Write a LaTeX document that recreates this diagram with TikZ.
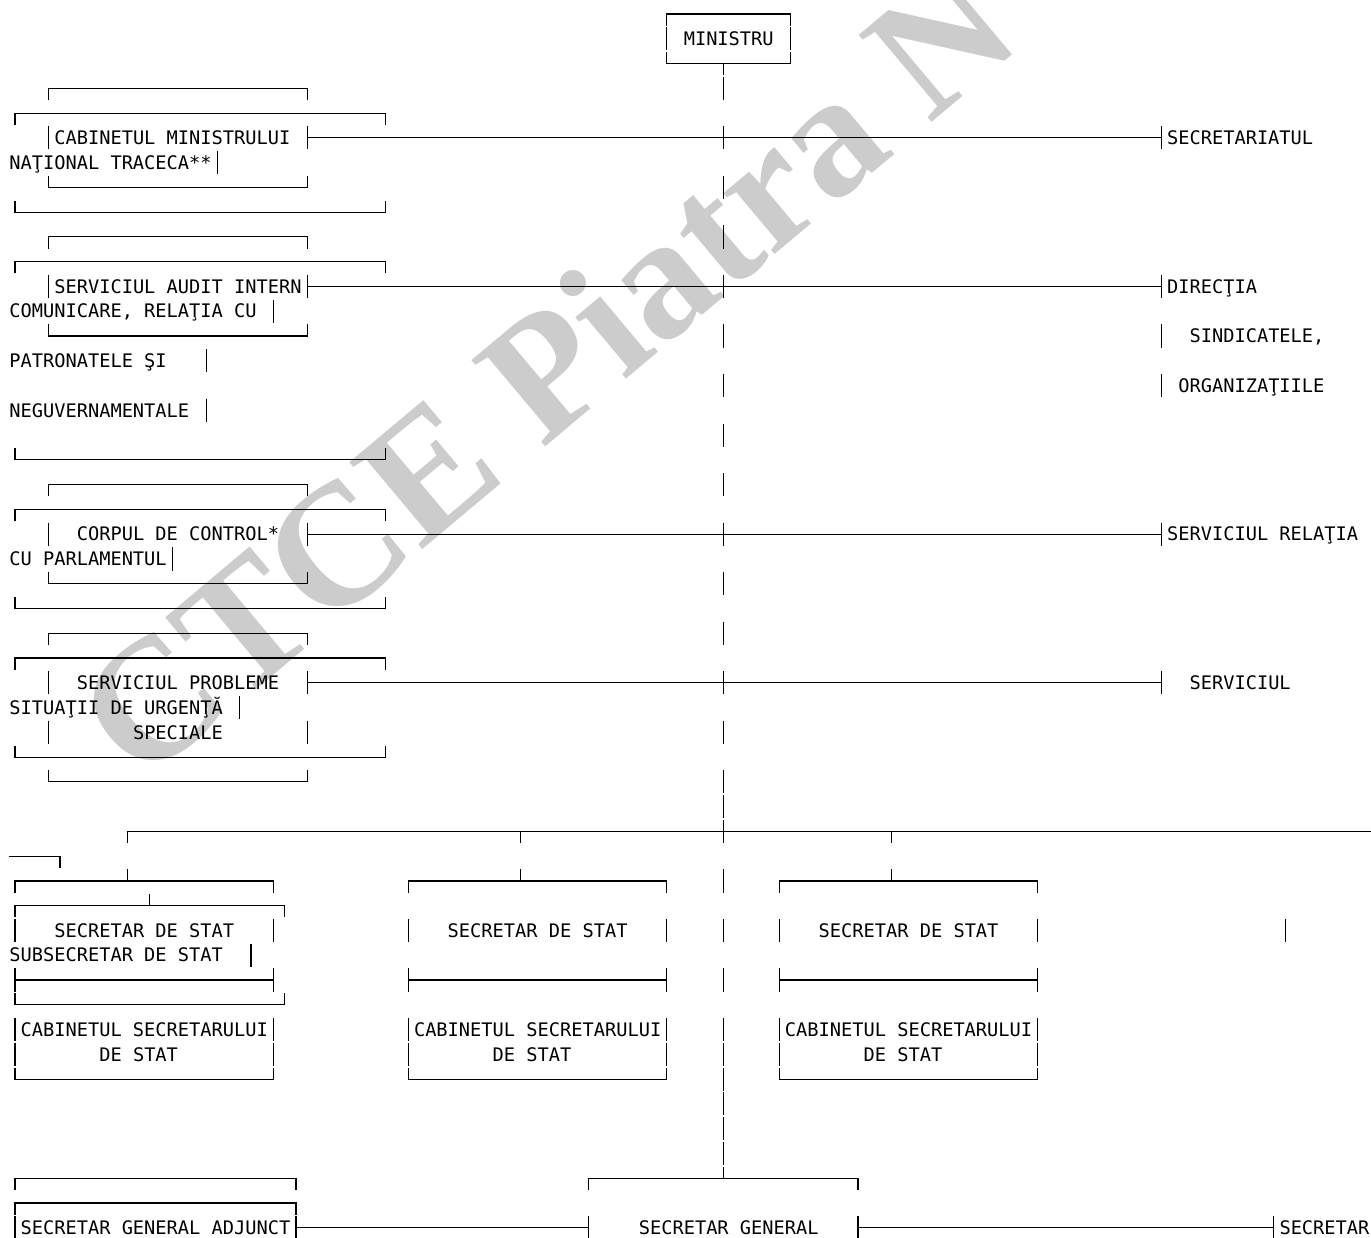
\documentclass[tikz,border=0pt]{standalone}
\usepackage{fontspec}
\newfontfamily\monofnt{DejaVu Sans Mono}
\newfontfamily\wmfnt{Liberation Serif}
\def\hh{0.468}
\newcommand\BTop[3]{\draw[ln] ({#2},{#1+\hh}) -- ({#2},{#1}) -- ({#3},{#1}) -- ({#3},{#1+\hh});}
\newcommand\BBot[3]{\draw[ln] ({#2},{#1-\hh}) -- ({#2},{#1}) -- ({#3},{#1}) -- ({#3},{#1-\hh});}
\newcommand\VB[2]{\draw[ln] ({#2},{#1-\hh}) -- ({#2},{#1+\hh});}
\newcommand\UpT[2]{\draw[ln] ({#2},{#1-\hh}) -- ({#2},{#1});}
\newcommand\DnT[2]{\draw[ln] ({#2},{#1}) -- ({#2},{#1+\hh});}
\newcommand\HL[3]{\draw[ln] ({#2},{#1}) -- ({#3},{#1});}
\newcommand\TX[4]{\node[txt] (#1) at ({#3-0.5},{#2+0.27}) {#4};}
\tikzset{
  ln/.style={line width=0.85pt, line join=miter},
  txt/.style={anchor=base west, inner sep=0pt, outer sep=0pt, font=\monofnt\fontsize{14}{14}\selectfont},
  wm/.style={text=black!20, font=\wmfnt\bfseries\fontsize{130}{130}\selectfont, rotate=40, inner sep=0pt}
}
\begin{document}
\begin{tikzpicture}[x=0.75pt,y=-0.75pt]
\fill[white] (0,0) rectangle (1371,1238);
\useasboundingbox (0,0) rectangle (1371,1238);
\clip (0,0) rectangle (1371,1238);
\node[wm] (wmark) at (545,370) {CTCE Piatra N};
\begin{scope}[shift={(11.25pt,-10.5pt)}, x=8.43pt, y=-18.5775pt]
% MINISTRU
\BTop{0}{58}{69}
\VB{1}{58}\VB{1}{69}\TX{min}{1}{60}{MINISTRU}
\BBot{2}{58}{69}\DnT{2}{63}
% trunk
\foreach \r in {3,5,7,9,11,13,15,17,19,21,23,25,27,29,31,32,33,35,37,39,41,42,43,44,45,46}{\VB{\r}{63}}
\UpT{47}{63}
% block 1
\BTop{3}{3}{26}
\BTop{4}{0}{33}
\VB{5}{3}\TX{cab}{5}{4}{CABINETUL MINISTRULUI}\VB{5}{26}\HL{5}{26}{102}\VB{5}{102}\TX{secr}{5}{103}{SECRETARIATUL}
\TX{trac}{6}{0}{NAŢIONAL TRACECA**}\VB{6}{18}
\BBot{7}{3}{26}
\BBot{8}{0}{33}
% block 2
\BTop{9}{3}{26}
\BTop{10}{0}{33}
\VB{11}{3}\TX{aud}{11}{4}{SERVICIUL AUDIT INTERN}\VB{11}{26}\HL{11}{26}{102}\VB{11}{102}\TX{dir}{11}{103}{DIRECŢIA}
\TX{com}{12}{0}{COMUNICARE, RELAŢIA CU}\VB{12}{23}
\BBot{13}{3}{26}\VB{13}{102}\TX{sind}{13}{105}{SINDICATELE,}
\TX{pat}{14}{0}{PATRONATELE ŞI}\VB{14}{17}
\VB{15}{102}\TX{org}{15}{104}{ORGANIZAŢIILE}
\TX{neg}{16}{0}{NEGUVERNAMENTALE}\VB{16}{17}
\BBot{18}{0}{33}
% block 3
\BTop{19}{3}{26}
\BTop{20}{0}{33}
\VB{21}{3}\TX{corp}{21}{6}{CORPUL DE CONTROL*}\VB{21}{26}\HL{21}{26}{102}\VB{21}{102}\TX{rel}{21}{103}{SERVICIUL RELAŢIA}
\TX{parl}{22}{0}{CU PARLAMENTUL}\VB{22}{14}
\BBot{23}{3}{26}
\BBot{24}{0}{33}
% block 4
\BTop{25}{3}{26}
\BTop{26}{0}{33}
\VB{27}{3}\TX{prob}{27}{6}{SERVICIUL PROBLEME}\VB{27}{26}\HL{27}{26}{102}\VB{27}{102}\TX{serv}{27}{105}{SERVICIUL}
\TX{sit}{28}{0}{SITUAŢII DE URGENŢĂ}\VB{28}{20}
\VB{29}{3}\TX{spec}{29}{11}{SPECIALE}\VB{29}{26}
\BBot{30}{0}{33}
\BBot{31}{3}{26}
% secretari de stat
\draw[ln] (10,{33+\hh}) -- (10,33) -- (122,33);
\DnT{33}{45}\DnT{33}{78}
\draw[ln] (-0.5,34) -- (4,34) -- (4,{34+\hh});
\BTop{35}{0}{23}\UpT{35}{10}
\BTop{35}{35}{58}\UpT{35}{45}
\BTop{35}{68}{91}\UpT{35}{78}
\BTop{36}{0}{24}\UpT{36}{12}
\VB{37}{0}\TX{ss1}{37}{4}{SECRETAR DE STAT}\VB{37}{23}
\VB{37}{35}\TX{ss2}{37}{39}{SECRETAR DE STAT}\VB{37}{58}
\VB{37}{68}\TX{ss3}{37}{72}{SECRETAR DE STAT}\VB{37}{91}
\VB{37}{113}
\TX{sub}{38}{0}{SUBSECRETAR DE STAT}\VB{38}{21}
\VB{39}{0}\HL{39}{0}{23}\VB{39}{23}
\VB{39}{35}\HL{39}{35}{58}\VB{39}{58}
\VB{39}{68}\HL{39}{68}{91}\VB{39}{91}
\BBot{40}{0}{24}
\VB{41}{0}\TX{cs1}{41}{1}{CABINETUL SECRETARULUI}\VB{41}{23}
\VB{41}{35}\TX{cs2}{41}{36}{CABINETUL SECRETARULUI}\VB{41}{58}
\VB{41}{68}\TX{cs3}{41}{69}{CABINETUL SECRETARULUI}\VB{41}{91}
\VB{42}{0}\TX{ds1}{42}{8}{DE STAT}\VB{42}{23}
\VB{42}{35}\TX{ds2}{42}{43}{DE STAT}\VB{42}{58}
\VB{42}{68}\TX{ds3}{42}{76}{DE STAT}\VB{42}{91}
\BBot{43}{0}{23}\BBot{43}{35}{58}\BBot{43}{68}{91}
% secretar general
\BTop{47}{0}{25}
\BTop{47}{51}{75}
\BTop{48}{0}{25}
\VB{49}{0}\TX{sga}{49}{1}{SECRETAR GENERAL ADJUNCT}\VB{49}{25}\HL{49}{25}{51}\VB{49}{51}
\TX{sg}{49}{56}{SECRETAR GENERAL}\VB{49}{75}\HL{49}{75}{112}\VB{49}{112}\TX{sgr}{49}{113}{SECRETAR}
\end{scope}
\end{tikzpicture}
\end{document}
